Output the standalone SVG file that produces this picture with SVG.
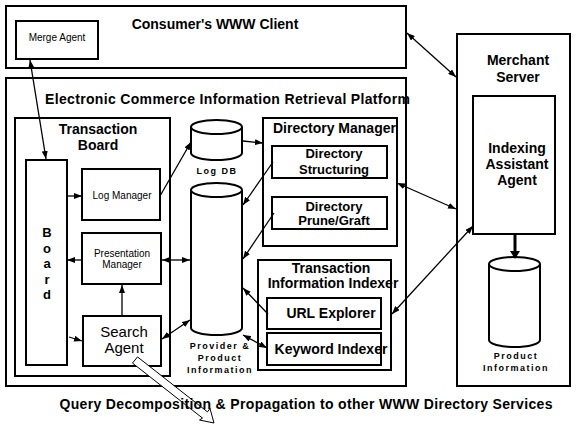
<svg xmlns="http://www.w3.org/2000/svg" width="576" height="432" viewBox="0 0 576 432">
<style>
.box{fill:none;stroke:#000;stroke-width:2}
.cyl{fill:#fff;stroke:#000;stroke-width:2}
.t{font-family:"Liberation Sans",Arial,sans-serif;font-weight:bold;font-size:14px;fill:#000;text-anchor:middle}
.b{font-family:"Liberation Sans",Arial,sans-serif;font-weight:bold;font-size:13px;fill:#000;text-anchor:middle}
.r{font-family:"Liberation Sans",Arial,sans-serif;font-size:10px;fill:#000;text-anchor:middle}
.s{font-family:"Liberation Sans",Arial,sans-serif;font-weight:bold;font-size:9px;letter-spacing:1.5px;fill:#000;text-anchor:middle}
.c{fill:none;stroke:#000;stroke-width:1.3}
</style>
<defs>
<marker id="ah" viewBox="0 0 8 6" refX="8" refY="3" markerWidth="8" markerHeight="6" markerUnits="userSpaceOnUse" orient="auto-start-reverse">
<path d="M0,0 L8,3 L0,6 z" fill="#000"/>
</marker>
</defs>
<rect width="576" height="432" fill="#fff"/>

<g id="consumer">
<rect class="box" x="6" y="6" width="400" height="62"/>
<text class="t" x="215" y="29">Consumer's WWW Client</text>
</g>
<g id="merge-agent">
<rect class="box" x="16" y="21" width="82" height="38"/>
<text class="r" x="57" y="41">Merge Agent</text>
</g>

<g id="platform">
<rect class="box" x="6" y="78" width="400" height="308"/>
<text class="t" x="45" y="104" style="text-anchor:start" textLength="365">Electronic Commerce Information Retrieval Platform</text>
</g>

<g id="transaction-board">
<rect class="box" x="15" y="118" width="155" height="258"/>
<text class="t" x="98" y="134">Transaction</text>
<text class="t" x="98" y="150">Board</text>
</g>

<g id="board">
<rect class="box" x="26" y="160" width="41" height="205"/>
<text class="b" x="47" y="237">B</text>
<text class="b" x="47" y="252.5">o</text>
<text class="b" x="47" y="268">a</text>
<text class="b" x="47" y="283.5">r</text>
<text class="b" x="47" y="299">d</text>
</g>

<g id="log-manager">
<rect class="box" x="82" y="169" width="78" height="51"/>
<text class="r" x="122" y="199">Log Manager</text>
</g>

<g id="presentation-manager">
<rect class="box" x="82" y="233" width="79" height="51"/>
<text class="r" x="122" y="257">Presentation</text>
<text class="r" x="122" y="268">Manager</text>
</g>

<g id="search-agent">
<rect class="box" x="83" y="316" width="78" height="50"/>
<text class="r" x="124" y="337" style="font-size:15px">Search</text>
<text class="r" x="124" y="353" style="font-size:15px">Agent</text>
</g>

<g id="log-db">
<path class="cyl" d="M191,127 L191,153 A25.5,7 0 0 0 242,153 L242,127"/>
<ellipse class="cyl" cx="216.5" cy="127" rx="25.5" ry="7"/>
<text class="s" x="217" y="174">Log DB</text>
</g>

<g id="provider-product">
<path class="cyl" d="M191,190 L191,328 A25.5,7 0 0 0 242,328 L242,190"/>
<ellipse class="cyl" cx="216.5" cy="190" rx="25.5" ry="7"/>
<text class="s" x="220" y="349">Provider &amp;</text>
<text class="s" x="220" y="361">Product</text>
<text class="s" x="220" y="373">Information</text>
</g>

<g id="directory-manager">
<rect class="box" x="263" y="118" width="134" height="128"/>
<text class="t" x="273" y="133" style="text-anchor:start">Directory Manager</text>
</g>
<g id="directory-structuring">
<rect class="box" x="272" y="146" width="115" height="32"/>
<text class="t" x="334" y="158" style="font-size:13px">Directory</text>
<text class="t" x="334" y="174" style="font-size:13px">Structuring</text>
</g>
<g id="directory-prune-graft">
<rect class="box" x="272" y="197" width="115" height="32"/>
<text class="t" x="334" y="211" style="font-size:13px">Directory</text>
<text class="t" x="334" y="225" style="font-size:13px">Prune/Graft</text>
</g>

<g id="transaction-indexer">
<rect class="box" x="258" y="260" width="133" height="110"/>
<text class="t" x="331" y="273">Transaction</text>
<text class="t" x="333" y="288">Information Indexer</text>
</g>
<g id="url-explorer">
<rect class="box" x="267" y="298" width="114" height="31"/>
<text class="t" x="331" y="318">URL Explorer</text>
</g>
<g id="keyword-indexer">
<rect class="box" x="267" y="333" width="114" height="32"/>
<text class="t" x="331" y="354">Keyword Indexer</text>
</g>

<g id="merchant-server">
<rect class="box" x="457" y="34" width="113" height="352"/>
<text class="t" x="518" y="65">Merchant</text>
<text class="t" x="518" y="82">Server</text>
</g>
<g id="indexing-assistant">
<rect class="box" x="473" y="96" width="82" height="138"/>
<text class="t" x="517" y="153">Indexing</text>
<text class="t" x="517" y="169">Assistant</text>
<text class="t" x="517" y="185">Agent</text>
</g>
<g id="product-information">
<path class="cyl" d="M489,264 L489,340 A25.5,7 0 0 0 540,340 L540,264"/>
<ellipse class="cyl" cx="514.5" cy="264" rx="25.5" ry="7"/>
<text class="s" x="516" y="359">Product</text>
<text class="s" x="516" y="371">Information</text>
</g>

<g id="connectors">
<line class="c" x1="30" y1="60" x2="46" y2="159" marker-start="url(#ah)" marker-end="url(#ah)"/>
<line class="c" x1="407" y1="33" x2="456" y2="77" marker-start="url(#ah)" marker-end="url(#ah)"/>
<line class="c" x1="397" y1="183" x2="456" y2="209" marker-start="url(#ah)" marker-end="url(#ah)"/>
<line class="c" x1="473" y1="226" x2="392" y2="314" marker-start="url(#ah)" marker-end="url(#ah)"/>
<line class="c" x1="67" y1="196" x2="82" y2="196" marker-end="url(#ah)"/>
<line class="c" x1="160" y1="196" x2="191" y2="142" marker-end="url(#ah)"/>
<line class="c" x1="243" y1="141" x2="263" y2="143" marker-end="url(#ah)"/>
<line class="c" x1="273" y1="162" x2="243" y2="205" marker-end="url(#ah)"/>
<line class="c" x1="274" y1="213" x2="243" y2="259" marker-end="url(#ah)"/>
<line class="c" x1="82" y1="260" x2="67" y2="260" marker-end="url(#ah)"/>
<line class="c" x1="162" y1="260" x2="190" y2="260" marker-start="url(#ah)" marker-end="url(#ah)"/>
<line class="c" x1="122" y1="316" x2="122" y2="285" marker-end="url(#ah)"/>
<line class="c" x1="69" y1="337" x2="82" y2="341" marker-end="url(#ah)"/>
<line class="c" x1="162" y1="339" x2="190" y2="320" marker-start="url(#ah)" marker-end="url(#ah)"/>
<line class="c" x1="268" y1="314" x2="243" y2="288" marker-end="url(#ah)"/>
<line class="c" x1="243" y1="335" x2="267" y2="348" marker-start="url(#ah)" marker-end="url(#ah)"/>
<line x1="515" y1="234" x2="515" y2="252" stroke="#000" stroke-width="3"/>
<path d="M510,251 L520,251 L515,259 z" fill="#000"/>
<polygon points="137.5,356.9 207.5,411.9 210,408.5 214,423 199.5,420 202.5,418.1 132.5,363.1" fill="#fff" stroke="#000" stroke-width="1"/>
</g>

<text class="t" x="306" y="409" textLength="493">Query Decomposition &amp; Propagation to other WWW Directory Services</text>
</svg>
